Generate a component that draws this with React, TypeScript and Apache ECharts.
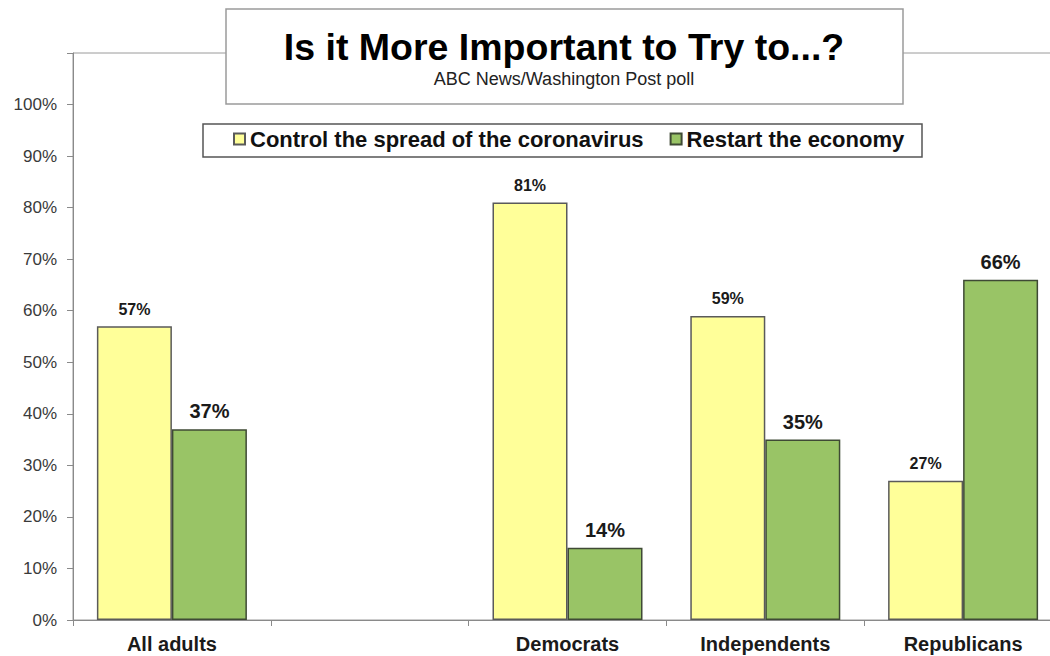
import React, { useEffect, useRef } from "react";
import * as echarts from "echarts";

const categories = ["All adults", "", "Democrats", "Independents", "Republicans"];
const controlSpread = [57, null, 81, 59, 27];
const restartEconomy = [37, null, 14, 35, 66];
const seriesNames = ["Control the spread of the coronavirus", "Restart the economy"];
const titleText = "Is it More Important to Try to...?";
const subtitleText = "ABC News/Washington Post poll";

const FONT = "'Liberation Sans', Arial, Helvetica, sans-serif";

export default function App() {
  const ref = useRef<HTMLDivElement>(null);
  useEffect(() => {
    if (!ref.current) return;
    const chart = echarts.init(ref.current, null, { renderer: "svg" });
    chart.setOption({
      animation: false,
      backgroundColor: "#ffffff",
      textStyle: { fontFamily: FONT },
      grid: {
        left: 73,
        top: 53,
        right: 8,
        bottom: 36,
        show: true,
        borderColor: "#9a9a9a",
        borderWidth: 1,
        backgroundColor: "transparent",
      },
      legend: {
        left: 228,
        top: 123,
        z: 200,
        itemWidth: 11,
        itemHeight: 11,
        itemGap: 26,
        icon: "rect",
        textStyle: { fontFamily: FONT, fontSize: 22, fontWeight: "bold", color: "#111" },
        data: seriesNames,
      },
      xAxis: {
        type: "category",
        data: categories,
        axisLine: { lineStyle: { color: "#8a8a8a", width: 1 } },
        axisTick: { show: true, length: 6, lineStyle: { color: "#8a8a8a" } },
        axisLabel: {
          fontFamily: FONT,
          fontSize: 20,
          fontWeight: "bold",
          color: "#1a1a1a",
          margin: 14,
          interval: 0,
        },
      },
      yAxis: {
        type: "value",
        min: 0,
        max: 110,
        interval: 10,
        splitLine: { show: false },
        axisLine: { show: true, lineStyle: { color: "#8a8a8a", width: 1 } },
        axisTick: { show: true, length: 6, lineStyle: { color: "#8a8a8a" } },
        axisLabel: {
          fontFamily: FONT,
          fontSize: 17,
          color: "#3a3a3a",
          margin: 16,
          formatter: (v: number) => (v > 100 ? "" : v + "%"),
        },
      },
      series: [
        {
          name: seriesNames[0],
          type: "bar",
          data: controlSpread,
          barWidth: 75,
          barGap: "0%",
          itemStyle: { color: "#FFFF99", borderColor: "#5a5a5a", borderWidth: 1.5 },
          label: {
            show: true,
            position: "top",
            distance: 9,
            fontFamily: FONT,
            fontSize: 16,
            fontWeight: "bold",
            color: "#1a1a1a",
            formatter: "{c}%",
          },
        },
        {
          name: seriesNames[1],
          type: "bar",
          data: restartEconomy,
          barWidth: 75,
          barGap: "0%",
          itemStyle: { color: "#99C466", borderColor: "#3f4a35", borderWidth: 1.5 },
          label: {
            show: true,
            position: "top",
            distance: 8,
            fontFamily: FONT,
            fontSize: 20,
            fontWeight: "bold",
            color: "#1a1a1a",
            formatter: "{c}%",
          },
        },
      ],
      graphic: [
        {
          type: "rect",
          z: 100,
          shape: { x: 226, y: 9, width: 677, height: 95 },
          style: { fill: "#ffffff", stroke: "#9a9a9a", lineWidth: 1.5 },
        },
        {
          type: "text",
          z: 101,
          x: 564,
          y: 47,
          style: {
            text: titleText,
            fontFamily: FONT,
            fontSize: 37.5,
            fontWeight: "bold",
            fill: "#000",
            textAlign: "center",
            textVerticalAlign: "middle",
          },
        },
        {
          type: "text",
          z: 101,
          x: 564,
          y: 79,
          style: {
            text: subtitleText,
            fontFamily: FONT,
            fontSize: 18,
            fill: "#222",
            textAlign: "center",
            textVerticalAlign: "middle",
          },
        },
        {
          type: "rect",
          z: 99,
          shape: { x: 203, y: 124, width: 719, height: 33 },
          style: { fill: "#ffffff", stroke: "#555555", lineWidth: 1.5 },
        },
      ],
    });
    return () => chart.dispose();
  }, []);
  return (
    <div style={{ position: "absolute", left: 0, top: 0, width: 1050, height: 656, overflow: "hidden" }}>
      <div ref={ref} style={{ width: 1070, height: 656 }} />
    </div>
  );
}
